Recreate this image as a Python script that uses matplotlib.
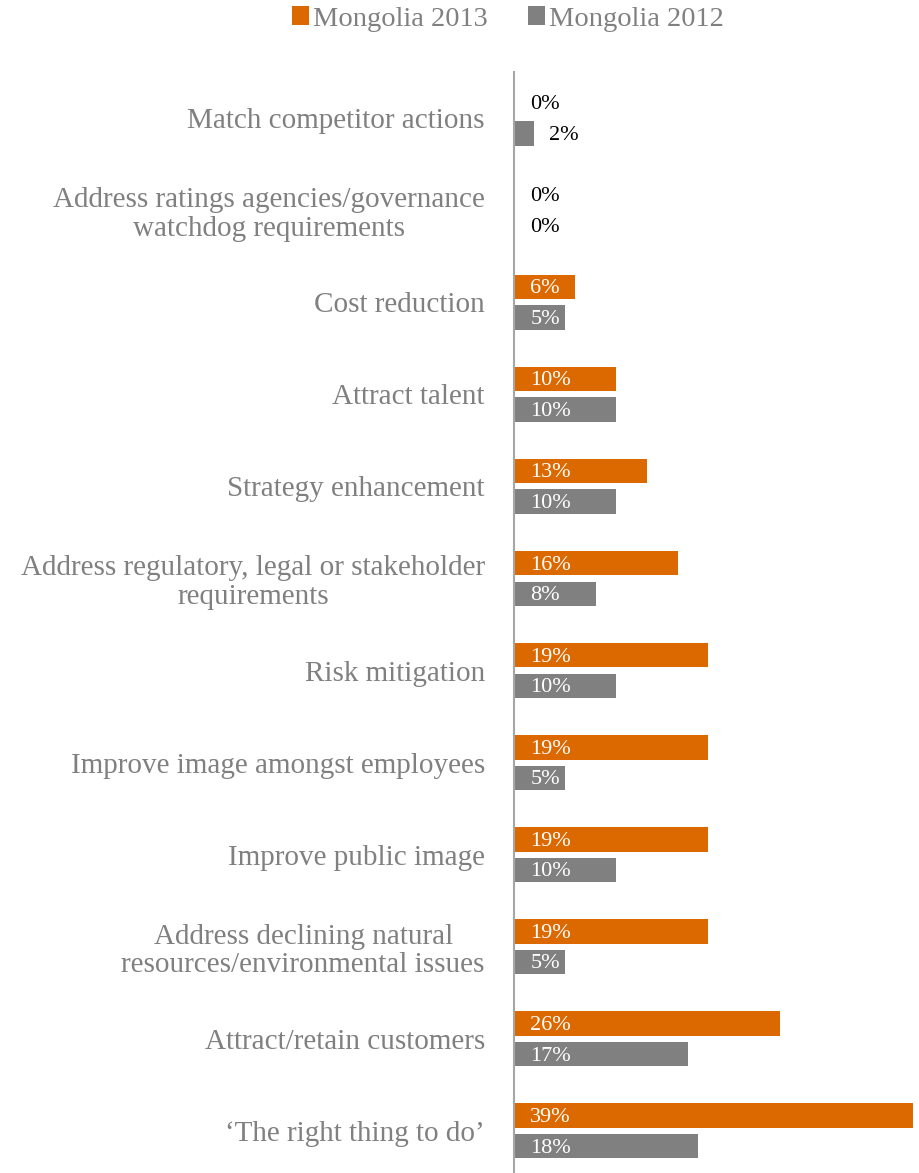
import matplotlib
matplotlib.use("Agg")
import matplotlib.pyplot as plt
import numpy as np

categories = [
    "Match competitor actions",
    "Address ratings agencies/governance\nwatchdog requirements",
    "Cost reduction",
    "Attract talent",
    "Strategy enhancement",
    "Address regulatory, legal or stakeholder\nrequirements",
    "Risk mitigation",
    "Improve image amongst employees",
    "Improve public image",
    "Address declining natural\nresources/environmental issues",
    "Attract/retain customers",
    "\u2018The right thing to do\u2019",
]
mongolia_2013 = [0, 0, 6, 10, 13, 16, 19, 19, 19, 19, 26, 39]
mongolia_2012 = [2, 0, 5, 10, 10, 8, 10, 5, 10, 5, 17, 18]
series_names = ["Mongolia 2013", "Mongolia 2012"]

ORANGE = "#DC6900"
GREY = "#808080"
FONT = "Liberation Serif"

plt.rcParams["font.family"] = [FONT, "DejaVu Serif"]

fig = plt.figure(figsize=(9.19, 11.73), dpi=100)
ax = fig.add_axes([514 / 919, -4 / 1173, 399 / 919, 1105 / 1173])

y = np.arange(len(categories))
h = 0.265
off = 0.166

ax.barh(y - off, mongolia_2013, height=h, color=ORANGE, label=series_names[0])
ax.barh(y + off, mongolia_2012, height=h, color=GREY, label=series_names[1])

ax.set_xlim(0, 39)
ax.set_ylim(len(categories) - 0.5, -0.5)

# value labels: inside the bar in white, or just past it in black when the bar is tiny
for vals, dy in ((mongolia_2013, -off), (mongolia_2012, off)):
    for i, v in enumerate(vals):
        if v <= 2:
            ax.text(max(1.6, v + 1.4), i + dy + 0.02, f"{v}%", va="center", ha="left",
                    fontsize=16, color="black")
        else:
            ax.text(1.6, i + dy + 0.02, f"{v}%", va="center", ha="left",
                    fontsize=16, color="white")

ax.set_yticks(y)
ax.set_yticklabels(categories, fontsize=21, color=GREY,
                   multialignment="center", linespacing=1.12)
ax.tick_params(axis="y", length=0, pad=21)
ax.set_xticks([])
for s in ("top", "right", "bottom"):
    ax.spines[s].set_visible(False)
ax.spines["left"].set_color("#A6A6A6")
ax.spines["left"].set_linewidth(1.5)

handles, labels = ax.get_legend_handles_labels()
fig.legend(handles, labels, loc="center", bbox_to_anchor=(508 / 919, 1 - 19 / 1173),
           ncol=2, frameon=False, fontsize=20.5, labelcolor=GREY,
           handlelength=0.6, handleheight=0.6, handletextpad=0.15, columnspacing=1.4)

fig.savefig("out.png", dpi=100)
